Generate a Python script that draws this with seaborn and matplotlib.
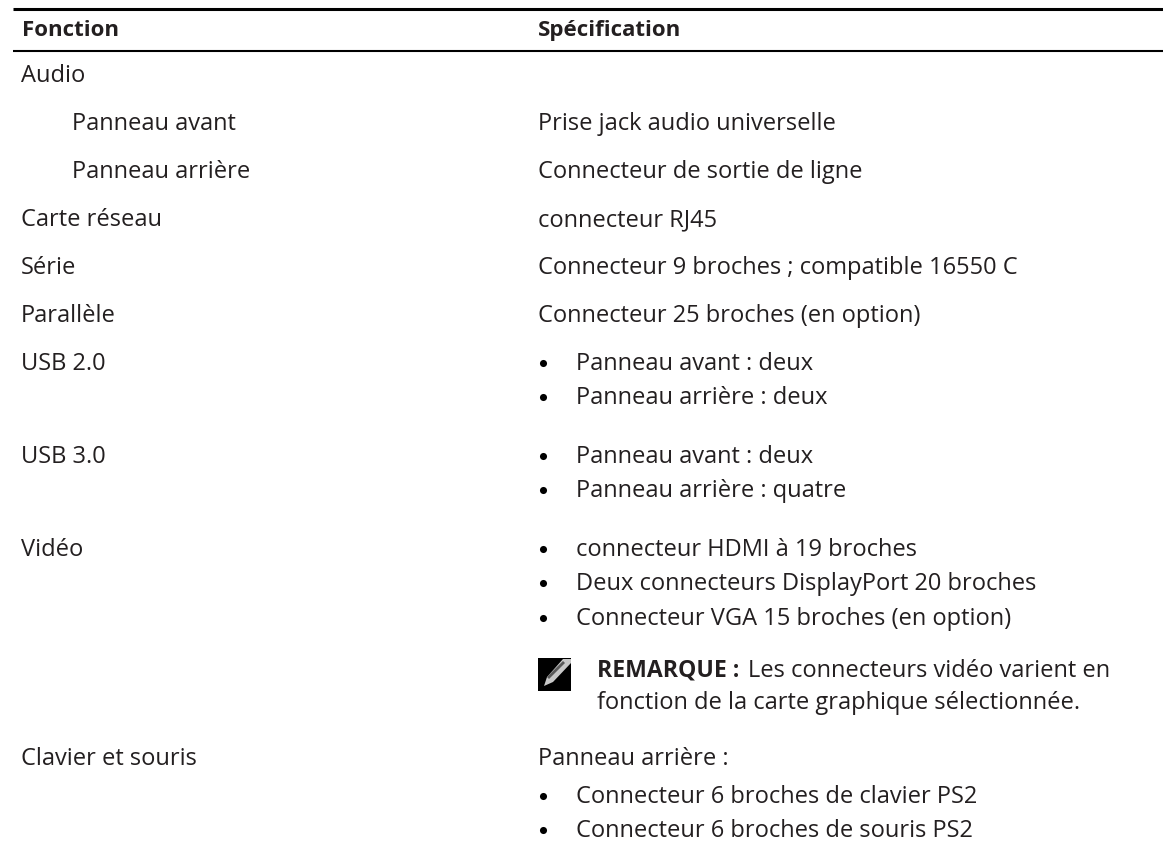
import matplotlib
matplotlib.use("Agg")
import matplotlib.pyplot as plt
from matplotlib.patches import Rectangle, Polygon
import seaborn as sns

sns.set_theme(style="white")
plt.rcParams['font.family'] = ['Open Sans', 'DejaVu Sans']

headers = ["Fonction", "Spécification"]
left_text = ["Audio", "Panneau avant", "Panneau arrière", "Carte réseau", "Série", "Parallèle",
             "USB 2.0", "USB 3.0", "Vidéo", "Clavier et souris"]
left_y = [82, 130, 178, 226, 274, 322, 370, 463, 556, 765]
left_x = [21, 72, 72, 21, 21, 21, 21, 21, 21, 21]
right_text = ["Prise jack audio universelle", "Connecteur de sortie de ligne", "connecteur RJ45",
              "Connecteur 9 broches ; compatible 16550 C", "Connecteur 25 broches (en option)",
              "Panneau arrière :"]
right_y = [130, 178, 226, 274, 322, 765]
bullet_text = ["Panneau avant : deux", "Panneau arrière : deux", "Panneau avant : deux",
               "Panneau arrière : quatre", "connecteur HDMI à 19 broches",
               "Deux connecteurs DisplayPort 20 broches", "Connecteur VGA 15 broches (en option)",
               "Connecteur 6 broches de clavier PS2", "Connecteur 6 broches de souris PS2"]
bullet_y = [370, 404, 463, 497, 556, 590, 625, 803, 837]
note_bold = "REMARQUE :"
note_1 = "Les connecteurs vidéo varient en"
note_2 = "fonction de la carte graphique sélectionnée."

W, H = 1163, 842
fig = plt.figure(figsize=(W/100, H/100), dpi=100)
ax = fig.add_axes([0, 0, 1, 1])
ax.set_xlim(0, W)
ax.set_ylim(H, 0)
ax.axis("off")
fs = 17
c = "#231f20"
ax.plot([13, W], [8.5, 8.5], color="black", lw=2.2, solid_capstyle="butt")
ax.plot([13, W], [51, 51], color="black", lw=1.5, solid_capstyle="butt")
ax.text(22, 36, headers[0], fontsize=16, fontweight="bold", color=c, va="baseline")
ax.text(538, 36, headers[1], fontsize=16, fontweight="bold", color=c, va="baseline")
for t, y, x in zip(left_text, left_y, left_x):
    ax.text(x, y, t, fontsize=fs, color=c, va="baseline")
for t, y in zip(right_text, right_y):
    ax.text(538, y, t, fontsize=fs, color=c, va="baseline")
sns.scatterplot(x=[542.5] * len(bullet_y), y=[y - 7 for y in bullet_y], ax=ax,
                color="black", s=26, linewidth=0, legend=False)
for t, y in zip(bullet_text, bullet_y):
    ax.text(576, y, t, fontsize=fs, color=c, va="baseline")

# note icon
ax.add_patch(Rectangle((538, 658), 33, 33, color="black", lw=0))
ax.add_patch(Polygon([[544, 686], [547, 677], [563, 659], [571, 659], [571, 663], [553, 682]],
                     closed=True, facecolor="#c8c8c8", edgecolor="none"))
ax.add_patch(Polygon([[547, 677], [563, 661], [565, 663], [549, 679]],
                     closed=True, facecolor="#5a5a5a", edgecolor="none"))

ax.text(597, 677, note_bold, fontsize=16.6, fontweight="bold", color=c, va="baseline")
ax.text(748, 677, note_1, fontsize=fs, color=c, va="baseline")
ax.text(597, 709, note_2, fontsize=fs, color=c, va="baseline")
fig.savefig("out.png", dpi=100)
